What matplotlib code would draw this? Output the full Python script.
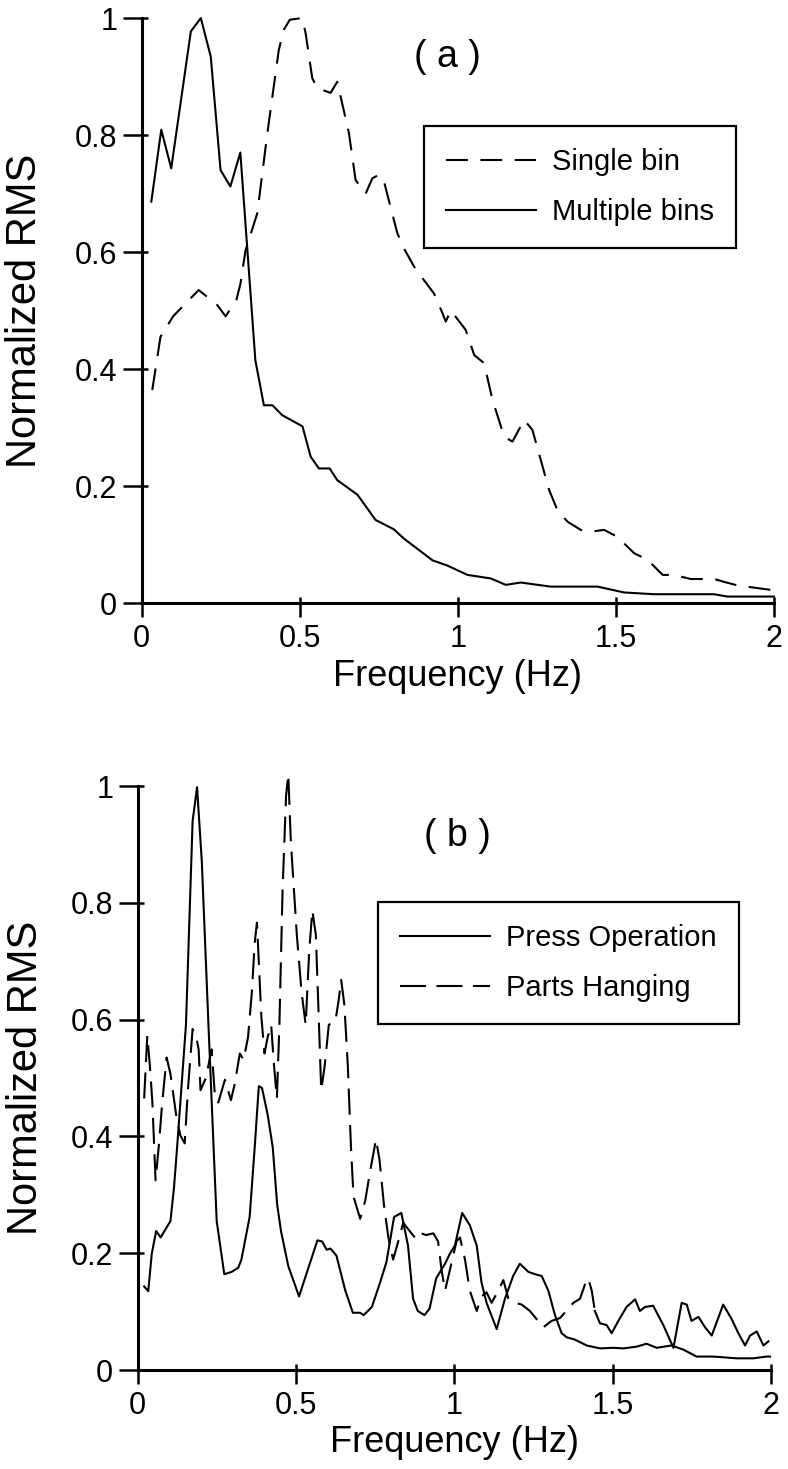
import matplotlib
matplotlib.use("Agg")
import matplotlib.pyplot as plt

# ---- data ----
# panel (a)
single_f = [0.034, 0.06, 0.10, 0.15, 0.181, 0.24, 0.266, 0.30, 0.313, 0.329,
            0.366, 0.398, 0.434, 0.45, 0.469, 0.508, 0.519, 0.54, 0.556, 0.598,
            0.619, 0.656, 0.677, 0.709, 0.73, 0.751, 0.767, 0.809, 0.83, 0.862,
            0.893, 0.925, 0.952, 0.962, 0.978, 1.025, 1.052, 1.083, 1.11, 1.147,
            1.173, 1.21, 1.236, 1.289, 1.315, 1.347, 1.389, 1.421, 1.463, 1.505,
            1.558, 1.60, 1.648, 1.684, 1.737, 1.769, 1.811, 1.843, 1.885, 1.927,
            1.996]
single_rms = [0.364, 0.455, 0.49, 0.518, 0.535, 0.509, 0.49, 0.518, 0.546, 0.603,
              0.666, 0.803, 0.945, 0.98, 0.997, 1.0, 0.974, 0.897, 0.88, 0.872,
              0.891, 0.803, 0.723, 0.70, 0.726, 0.732, 0.72, 0.632, 0.606, 0.575,
              0.552, 0.529, 0.495, 0.481, 0.50, 0.467, 0.424, 0.41, 0.347, 0.284,
              0.276, 0.313, 0.296, 0.193, 0.159, 0.139, 0.125, 0.122, 0.125, 0.113,
              0.085, 0.074, 0.048, 0.048, 0.041, 0.041, 0.041, 0.036, 0.030, 0.027,
              0.022]
multi_f = [0.031, 0.0625, 0.094, 0.125, 0.156, 0.1875, 0.219, 0.25, 0.281, 0.3125,
           0.36, 0.387, 0.414, 0.445, 0.509, 0.535, 0.561, 0.595, 0.619, 0.683,
           0.74, 0.798, 0.83, 0.92, 0.967, 1.031, 1.104, 1.152, 1.199, 1.294,
           1.442, 1.526, 1.621, 1.811, 1.853, 2.0]
multi_rms = [0.686, 0.809, 0.743, 0.86, 0.977, 1.0, 0.934, 0.74, 0.712, 0.77,
             0.415, 0.338, 0.338, 0.321, 0.302, 0.25, 0.23, 0.23, 0.21, 0.185,
             0.142, 0.126, 0.11, 0.073, 0.064, 0.048, 0.042, 0.031, 0.035, 0.028,
             0.028, 0.018, 0.015, 0.015, 0.011, 0.011]

# panel (b)
press_f = [0.021, 0.034, 0.045, 0.059, 0.073, 0.104, 0.115, 0.125, 0.139, 0.153,
           0.174, 0.188, 0.203, 0.224, 0.25, 0.274, 0.297, 0.318, 0.328, 0.354,
           0.37, 0.383, 0.393, 0.411, 0.427, 0.441, 0.453, 0.476, 0.51, 0.568,
           0.583, 0.597, 0.609, 0.628, 0.656, 0.68, 0.703, 0.714, 0.74, 0.766,
           0.786, 0.81, 0.833, 0.854, 0.87, 0.885, 0.906, 0.922, 0.943, 0.971,
           0.986, 1.002, 1.025, 1.049, 1.071, 1.086, 1.102, 1.134, 1.16, 1.186,
           1.207, 1.234, 1.255, 1.276, 1.297, 1.318, 1.339, 1.355, 1.381, 1.418,
           1.46, 1.502, 1.534, 1.576, 1.607, 1.639, 1.686, 1.723, 1.765, 1.818,
           1.892, 1.944, 1.986, 1.997]
press_rms = [0.143, 0.135, 0.199, 0.238, 0.227, 0.255, 0.311, 0.381, 0.486, 0.591,
             0.94, 0.998, 0.871, 0.591, 0.255, 0.164, 0.168, 0.175, 0.189, 0.262,
             0.381, 0.486, 0.483, 0.437, 0.381, 0.283, 0.238, 0.178, 0.126, 0.222,
             0.22, 0.206, 0.208, 0.196, 0.136, 0.098, 0.098, 0.094, 0.108, 0.15,
             0.185, 0.262, 0.269, 0.213, 0.122, 0.101, 0.094, 0.105, 0.157, 0.182,
             0.199, 0.213, 0.269, 0.248, 0.213, 0.15, 0.115, 0.07, 0.122, 0.161,
             0.182, 0.168, 0.164, 0.161, 0.136, 0.094, 0.063, 0.056, 0.052, 0.042,
             0.037, 0.038, 0.037, 0.04, 0.045, 0.038, 0.042, 0.035, 0.023, 0.023,
             0.02, 0.02, 0.023, 0.023]
hang_f = [0.021, 0.031, 0.039, 0.047, 0.057, 0.068, 0.078, 0.092, 0.104, 0.122,
          0.135, 0.149, 0.159, 0.174, 0.188, 0.193, 0.199, 0.216, 0.234, 0.245,
          0.255, 0.276, 0.295, 0.307, 0.323, 0.335, 0.349, 0.361, 0.37, 0.377,
          0.382, 0.391, 0.401, 0.411, 0.422, 0.43, 0.44, 0.448, 0.458, 0.469,
          0.476, 0.484, 0.503, 0.518, 0.531, 0.542, 0.552, 0.563, 0.573, 0.58,
          0.591, 0.604, 0.625, 0.635, 0.643, 0.653, 0.664, 0.674, 0.682, 0.703,
          0.719, 0.734, 0.753, 0.764, 0.778, 0.792, 0.807, 0.823, 0.839, 0.849,
          0.865, 0.88, 0.896, 0.911, 0.934, 0.949, 0.96, 0.971, 0.986, 1.007,
          1.018, 1.034, 1.049, 1.071, 1.086, 1.102, 1.118, 1.139, 1.155, 1.171,
          1.192, 1.213, 1.239, 1.26, 1.281, 1.307, 1.334, 1.36, 1.376, 1.397,
          1.413, 1.423, 1.434, 1.444,
          1.46, 1.481, 1.497, 1.518, 1.544, 1.571, 1.586, 1.602, 1.628, 1.66,
          1.692, 1.718, 1.734, 1.749, 1.771, 1.792, 1.813, 1.849, 1.876, 1.897,
          1.918, 1.934, 1.955, 1.976, 1.992]
hang_rms = [0.465, 0.573, 0.521, 0.458, 0.325, 0.388, 0.458, 0.535, 0.507, 0.437,
            0.402, 0.388, 0.479, 0.584, 0.563, 0.549, 0.479, 0.5, 0.549, 0.465,
            0.458, 0.497, 0.462, 0.49, 0.542, 0.531, 0.57, 0.647, 0.731, 0.766,
            0.71, 0.605, 0.542, 0.57, 0.591, 0.528, 0.465, 0.591, 0.822, 0.983,
            1.02, 0.906, 0.745, 0.647, 0.591, 0.717, 0.787, 0.745, 0.591, 0.479,
            0.521, 0.591, 0.598, 0.633, 0.668, 0.626, 0.521, 0.381, 0.297, 0.259,
            0.29, 0.339, 0.395, 0.36, 0.283, 0.227, 0.189, 0.22, 0.252, 0.245,
            0.234, 0.224, 0.234, 0.231, 0.234, 0.22, 0.171, 0.136, 0.171, 0.22,
            0.227, 0.189, 0.136, 0.101, 0.126, 0.133, 0.115, 0.136, 0.154, 0.122,
            0.115, 0.112, 0.101, 0.087, 0.073, 0.084, 0.089, 0.105, 0.115, 0.122,
            0.147, 0.157, 0.136, 0.101,
            0.08, 0.077, 0.063, 0.084, 0.108, 0.121, 0.101, 0.108, 0.11, 0.077,
            0.038, 0.115, 0.112, 0.084, 0.091, 0.073, 0.059, 0.112, 0.087, 0.063,
            0.042, 0.059, 0.066, 0.042, 0.049]
HANG_SPLIT = 104  # past ~1.44 Hz the trace is drawn solid in the original

xticks = [0, 0.5, 1, 1.5, 2]
xticklabels = ["0", "0.5", "1", "1.5", "2"]
yticks = [0, 0.2, 0.4, 0.6, 0.8, 1]
yticklabels = ["0", "0.2", "0.4", "0.6", "0.8", "1"]

plt.rcParams["font.family"] = ["Liberation Sans", "DejaVu Sans"]

W, H = 788, 1469
fig = plt.figure(figsize=(W / 100, H / 100), dpi=100)
fig.patch.set_facecolor("white")


def px_axes(x0, x1, ytop, ybot):
    return fig.add_axes([x0 / W, 1 - ybot / H, (x1 - x0) / W, (ybot - ytop) / H])


def style(ax, ylab_x):
    ax.set_xlim(0, 2)
    ax.set_ylim(0, 1)
    for s in ("top", "right"):
        ax.spines[s].set_visible(False)
    for s in ("left", "bottom"):
        ax.spines[s].set_linewidth(2.2)
    ax.set_xticks(xticks, xticklabels, fontsize=22)
    ax.set_yticks(yticks, yticklabels, fontsize=22)
    # short inward stubs on top of the outward ticks
    ax.set_xticks(xticks, minor=True)
    ax.set_yticks(yticks, minor=True)
    ax.xaxis.remove_overlapping_locs = False
    ax.yaxis.remove_overlapping_locs = False
    ax.tick_params(axis="x", which="major", direction="out", length=10, width=1.8, pad=5)
    ax.tick_params(axis="y", which="major", direction="out", length=13.5, width=1.8, pad=4)
    ax.tick_params(which="minor", direction="in", length=4.5, width=1.8)
    ax.set_xlabel("Frequency (Hz)", fontsize=26)
    ax.set_ylabel("Normalized RMS", fontsize=30)
    ax.xaxis.set_label_coords(0.5, -0.095)
    ax.yaxis.set_label_coords(ylab_x, 0.5)


def legend(ax, left_px, top_px):
    leg = ax.legend(loc="upper left", bbox_to_anchor=(left_px / W, 1 - top_px / H),
                    bbox_transform=fig.transFigure, fontsize=21, frameon=True,
                    fancybox=False, framealpha=1, edgecolor="black",
                    handlelength=3.1, handletextpad=0.55, labelspacing=0.75,
                    borderpad=0.75, borderaxespad=0)
    leg.get_frame().set_linewidth(1.6)
    return leg


# ---- panel (a) ----
ax1 = px_axes(141.5, 774, 18, 603)
ax1.plot(single_f, single_rms, color="black", lw=1.5, dashes=(10.5, 6),
         label="Single bin", clip_on=False)
ax1.plot(multi_f, multi_rms, color="black", lw=1.5, label="Multiple bins",
         clip_on=False)
style(ax1, -0.152)
legend(ax1, 424, 126)
fig.text(447 / W, 1 - 57 / H, "( a )", fontsize=27, ha="center", va="center")

# ---- panel (b) ----
ax2 = px_axes(137.5, 771, 786, 1370)
ax2.plot(press_f, press_rms, color="black", lw=1.5, label="Press Operation",
         clip_on=False)
ax2.plot(hang_f[:HANG_SPLIT], hang_rms[:HANG_SPLIT], color="black", lw=1.5,
         dashes=(12.5, 5), label="Parts Hanging", clip_on=False)
ax2.plot(hang_f[HANG_SPLIT - 1:], hang_rms[HANG_SPLIT - 1:], color="black",
         lw=1.5, clip_on=False)
style(ax2, -0.145)
legend(ax2, 378, 902)
fig.text(457 / W, 1 - 836 / H, "( b )", fontsize=27, ha="center", va="center")

fig.savefig("out.png", dpi=100, facecolor="white")
